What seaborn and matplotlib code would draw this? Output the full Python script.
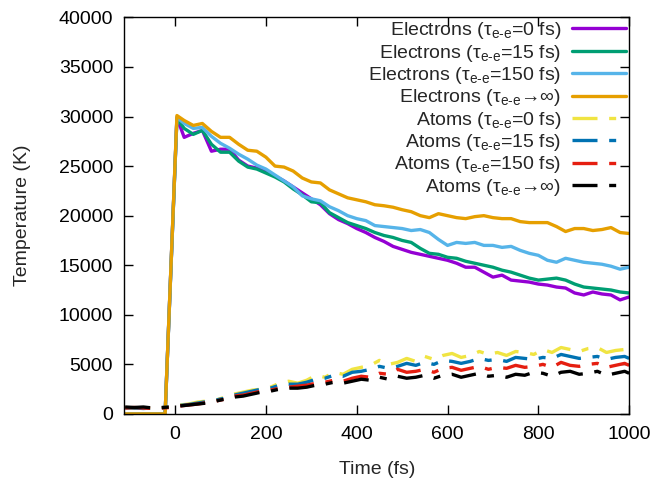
import numpy as np
import pandas as pd
import seaborn as sns
from matplotlib import pyplot as plt

# ========================================================
# time axes (fs)
t_elec = [-110, -22, 4] + list(range(20, 1001, 20))
t_atom = list(range(-110, 1000, 20)) + [1000]

# electron temperatures (K)
el_0 = [0, 0, 29900, 27900, 28300, 28600, 26500, 26700, 26700, 25600, 25000, 24800,
        24400, 24000, 23500, 22900, 22300, 21700, 21100, 20200, 19600, 19200,
        18700, 18300, 17800, 17400, 16900, 16600, 16300, 16100, 15900, 15700,
        15500, 15200, 14800, 14800, 14300, 13800, 14000, 13500, 13400, 13300,
        13100, 13000, 12800, 12700, 12200, 12000, 12300, 12100, 12000, 11500, 11800]
el_15 = [0, 0, 29800, 28800, 28200, 28600, 27200, 26400, 26400, 25500, 24900, 24700,
         24300, 23900, 23400, 22700, 22100, 21400, 21300, 20300, 19800, 19300,
         19000, 18700, 18300, 18000, 17800, 17500, 17300, 16700, 16200, 16100,
         15800, 15700, 15400, 15200, 15000, 14800, 14500, 14300, 14000, 13700,
         13500, 13600, 13700, 13500, 13100, 12800, 12700, 12600, 12500, 12300, 12200]
el_150 = [0, 0, 29900, 29300, 28800, 28900, 28000, 27300, 26800, 26200, 25700, 25100,
          24700, 24100, 23500, 22900, 22000, 21700, 21500, 20900, 20500, 20000,
          19700, 19500, 19000, 18900, 18800, 18700, 18500, 18600, 18300, 17600,
          17000, 17300, 17200, 17300, 17000, 17000, 16800, 16900, 16500, 16200,
          16000, 15500, 15300, 15700, 15500, 15300, 15200, 15100, 14900, 14600, 14800]
el_inf = [0, 0, 30100, 29600, 29100, 29300, 28500, 27900, 27900, 27200, 26600, 26500,
          25900, 25000, 24900, 24500, 23800, 23400, 23300, 22600, 22200, 21800,
          21600, 21400, 21100, 21000, 20850, 20600, 20400, 20000, 19800, 20200,
          20000, 19800, 19700, 19900, 20000, 19800, 19700, 19700, 19400, 19300,
          19300, 19300, 18900, 18400, 18700, 18700, 18500, 18600, 18800, 18300, 18200]

# atom temperatures (K)
at_0 = [650, 600, 600, 650, 600, 700, 900, 1000, 1200, 1300, 1400, 1700, 2000, 2200,
        2400, 2500, 2700, 3100, 3300, 3100, 3400, 3900, 3700, 4200, 4000, 4500,
        4700, 4900, 5400, 5000, 5200, 5600, 5300, 5800, 5500, 5900, 6100, 5700,
        5900, 6300, 6000, 6200, 5900, 6300, 6200, 6000, 6500, 6200, 6700, 6500,
        6300, 6600, 6700, 6200, 6400, 6500, 6300]
at_15 = [600, 600, 550, 600, 600, 700, 850, 950, 1100, 1250, 1400, 1600, 1900, 2100,
         2300, 2500, 2600, 2900, 3000, 3000, 3200, 3500, 3600, 3900, 3800, 4200,
         4300, 4500, 4800, 4600, 4800, 5100, 4900, 5200, 5000, 5400, 5300, 5100,
         5300, 5600, 5400, 5500, 5300, 5700, 5600, 5500, 5700, 5600, 6000, 5800,
         5600, 5700, 5800, 5500, 5700, 5800, 5600]
at_150 = [600, 650, 600, 550, 600, 650, 800, 900, 1000, 1150, 1300, 1500, 1800, 1900,
          2100, 2300, 2400, 2600, 2700, 2800, 2900, 3100, 3200, 3400, 3300, 3600,
          3800, 3700, 4100, 4000, 4500, 4200, 4300, 4500, 4200, 4600, 4700, 4400,
          4600, 4800, 4500, 4700, 4600, 4900, 4700, 4800, 5000, 4700, 5200, 4900,
          4800, 5000, 5100, 4700, 4900, 5100, 4900]
at_inf = [700, 650, 700, 600, 650, 700, 800, 900, 1000, 1100, 1300, 1500, 1700, 1800,
          2000, 2200, 2300, 2500, 2600, 2600, 2700, 2900, 3000, 3200, 3100, 3300,
          3500, 3400, 3700, 3500, 3800, 3600, 3700, 3900, 3600, 3900, 4000, 3700,
          3900, 4100, 3800, 3900, 3700, 4000, 3900, 4200, 4100, 3800, 4200, 4300,
          4000, 4100, 4300, 3900, 4100, 4300, 4100]

tau_labels = [r"τ$_\text{e-e}$=0 fs", r"τ$_\text{e-e}$=15 fs", r"τ$_\text{e-e}$=150 fs",
              r"τ$_\text{e-e}$→∞"]
el_colors = ["#9400d3", "#009e73", "#56b4e9", "#e69f00"]
at_colors = ["#f0e442", "#0072b2", "#e51e10", "#000000"]

# ========================================================
sns.set_style("ticks")
plt.rcParams["font.family"] = ["Liberation Sans", "DejaVu Sans"]
plt.rcParams["mathtext.fontset"] = "custom"
plt.rcParams["mathtext.rm"] = "Liberation Sans"
plt.rcParams["mathtext.it"] = "Liberation Sans"

fig, ax = plt.subplots(figsize=(6.54, 4.83), dpi=100)
fig.subplots_adjust(left=0.19, right=0.962, top=0.964, bottom=0.143)

for vals, col, tl in zip([el_0, el_15, el_150, el_inf], el_colors, tau_labels):
    sns.lineplot(x=t_elec, y=vals, ax=ax, color=col, lw=2.4, sort=False,
                 estimator=None, label=f"Electrons ({tl})")
for vals, col, tl in zip([at_0, at_15, at_150, at_inf], at_colors, tau_labels):
    sns.lineplot(x=t_atom, y=vals, ax=ax, color=col, lw=2.4, sort=False,
                 estimator=None, linestyle=(0, (7.5, 3.5, 2.1, 3.5)),
                 label=f"Atoms ({tl})")

ax.set_xlim(-112, 1000)
ax.set_ylim(0, 40000)
ax.set_xticks(range(0, 1001, 200))
ax.set_yticks(range(0, 40001, 5000))
ax.tick_params(direction="in", length=6.5, width=1, top=True, right=True,
               labelsize=14, colors="black")
ax.tick_params(axis="y", pad=8)
ax.tick_params(axis="x", pad=9)
for s in ax.spines.values():
    s.set_color("black")
    s.set_linewidth(1)

ax.set_xlabel("Time (fs)", fontsize=14, labelpad=13)
ax.set_ylabel("Temperature (K)", fontsize=14, labelpad=20)

leg = ax.legend(loc="upper right", markerfirst=False, frameon=False, fontsize=14,
                handlelength=2.8, labelspacing=0.07, borderaxespad=0.1,
                borderpad=0.05, handletextpad=0.55)

plt.savefig("out.png", dpi=100)
